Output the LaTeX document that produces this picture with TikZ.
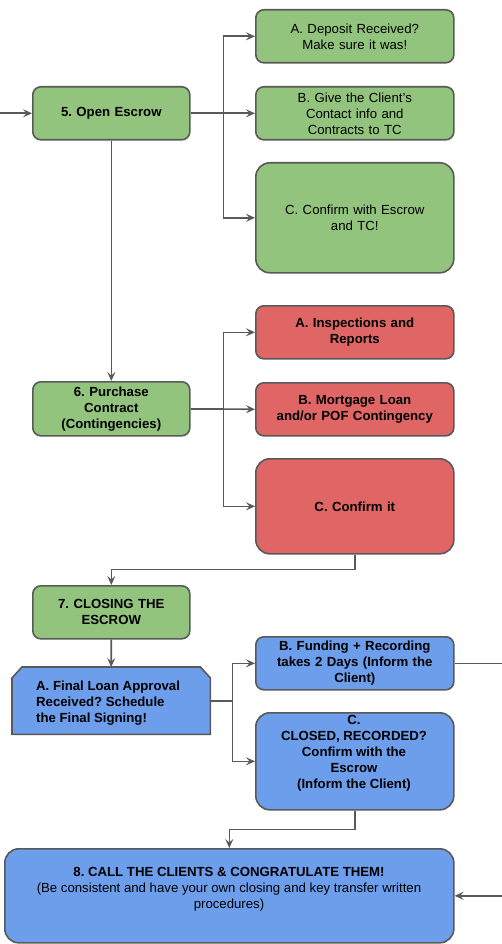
\documentclass[tikz,border=0pt]{standalone}
\usepackage{fontspec}
\setmainfont{Liberation Sans}
\usetikzlibrary{arrows.meta,calc}
\definecolor{gfill}{HTML}{93C47D}
\definecolor{rfill}{HTML}{E06666}
\definecolor{bfill}{HTML}{6D9EEB}
\definecolor{edgecol}{HTML}{595959}
\newcommand{\fs}{\fontsize{13.2}{16}\selectfont\frenchspacing}
\begin{document}
\begin{tikzpicture}[x=1pt,y=-1pt,
  box/.style={draw=edgecol, line width=1.6pt, rounded corners=8pt, align=center,
    text width=192pt, inner sep=0pt, anchor=north west, minimum width=198pt,
    font=\fs},
  left/.style={box, minimum width=157pt, text width=152pt},
  big/.style={box, rounded corners=14pt},
  txt/.style={align=center, font=\fs, inner sep=0pt},
  conn/.style={draw=edgecol, line width=1.6pt, -{Stealth[length=9pt,width=8pt,inset=3.5pt]}}
]
\useasboundingbox (0,0) rectangle (502,944);
% group 5
\node[left, fill=gfill, minimum height=53pt, font=\fs\bfseries] (open) at (32,86) {5. Open Escrow};
\node[box, fill=gfill, minimum height=53pt] (dep) at (255,9) {A. Deposit Received?\\Make sure it was!};
\node[box, fill=gfill, minimum height=53pt] (give) at (255,86) {B. Give the Client's\\Contact info and\\Contracts to TC};
\node[big, fill=gfill, minimum height=110pt] (conf) at (255,162) {C. Confirm with Escrow\\and TC!};
% group 6
\node[left, fill=gfill, minimum height=54pt, font=\fs\bfseries] (pur) at (32,381) {6. Purchase\\Contract\\(Contingencies)};
\node[box, fill=rfill, minimum height=53pt, font=\fs\bfseries] (insp) at (255,305) {A. Inspections and\\Reports};
\node[box, fill=rfill, minimum height=53pt, font=\fs\bfseries] (mort) at (255,382) {B. Mortgage Loan\\and/or POF Contingency};
\node[big, fill=rfill, minimum height=95pt, font=\fs\bfseries] (cit) at (255,458) {C. Confirm it};
% group 7
\node[left, fill=gfill, minimum height=53pt, font=\fs\bfseries] (close) at (32,585) {7. CLOSING THE\\ESCROW};
\node[anchor=north west, minimum width=198pt, minimum height=67pt, inner sep=0pt] (afin) at (12,667) {};
\draw[fill=bfill, draw=edgecol, line width=1.6pt]
  (afin.south west) -- ($(afin.north west)+(0,11)$) -- ($(afin.north west)+(10,0)$)
  -- ($(afin.north east)+(-10,0)$) -- ($(afin.north east)+(0,11)$) -- (afin.south east) -- cycle;
\node[txt, anchor=west, align=left, font=\fs\bfseries] (afintext) at (36,703) {A. Final Loan Approval\\Received? Schedule\\the Final Signing!};
\node[box, fill=bfill, minimum height=53pt, font=\fs\bfseries] (fund) at (255,636) {B. Funding + Recording\\takes 2 Days (Inform the\\Client)};
\node[big, fill=bfill, minimum height=97pt] (closed) at (255,712) {};
\node[txt, font=\fs\bfseries] (closedtext) at (354,753) {C.\\CLOSED, RECORDED?\\Confirm with the\\Escrow\\(Inform the Client)};
% 8
\node[big, fill=bfill, minimum width=449pt, minimum height=94pt, text width=440pt] (call) at (4,848) {};
\node[txt] (calltext) at (229,889) {\textbf{8. CALL THE CLIENTS \& CONGRATULATE THEM!}\\(Be consistent and have your own closing and key transfer written\\procedures)};
% connectors
\coordinate (inc) at ($(open.west)+(-40,0)$);
\draw[conn] (inc) -- (open.west);
\draw[conn] (open.east) -- ++(33,0) |- (dep.west);
\draw[conn] (open.east) -- (give.west);
\draw[conn] (open.east) -- ++(33,0) |- (conf.west);
\draw[conn] (open.south) -- (pur.north);
\draw[conn] (pur.east) -- ++(33,0) |- (insp.west);
\draw[conn] (pur.east) -- (mort.west);
\draw[conn] (pur.east) -- ++(33,0) |- (cit.west);
\draw[conn] (cit.south) -- ++(0,15) -| (close.north);
\draw[conn] (close.south) -- (afin.north);
\draw[conn] (afin.east) -- ++(22,0) |- (fund.west);
\draw[conn] (afin.east) -- ++(22,0) |- (closed.west);
\draw[conn] (closed.south) -- ++(0,19) -| (call.north);
\draw[conn] (fund.east) -- ++(70,0) |- (call.east);
\end{tikzpicture}
\end{document}
